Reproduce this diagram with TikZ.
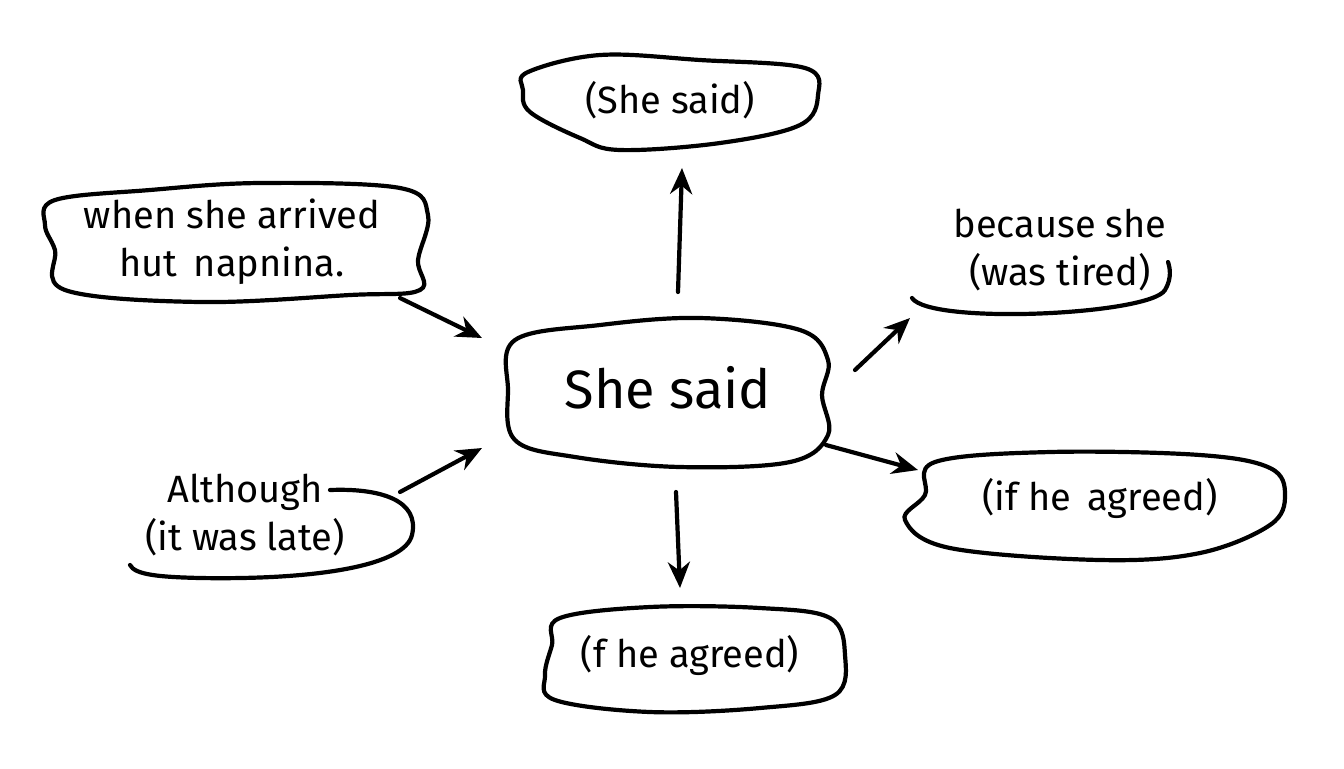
\documentclass[tikz,border=0pt]{standalone}
\usepackage{fontspec}
\setmainfont{Fira Sans}
\usetikzlibrary{arrows.meta}
\begin{document}
\begin{tikzpicture}[x=0.5pt,y=-0.5pt,
  blob/.style={draw,line width=2.1pt},
  txt/.style={font=\fontsize{19}{24}\selectfont,align=center},
  arr/.style={line width=2.1pt,-{Stealth[length=13pt,width=11pt]}},
  line cap=round,line join=round]
\useasboundingbox[fill=white] (0,0) rectangle (1344,768);
% center
\draw[blob] plot[smooth cycle,tension=0.6] coordinates {(515,340) (600,325) (700,318) (800,330) (828,360) (822,395) (828,435) (790,462) (680,467) (575,457) (515,440) (508,390)};
\node[font=\fontsize{27}{30}\selectfont] (c) at (668,388) {She said};
% top
\draw[blob] plot[smooth cycle,tension=0.6] coordinates {(528,72) (600,55) (700,60) (805,68) (818,95) (800,125) (720,143) (620,150) (580,138) (530,112) (523,90)};
\node[txt] (t) at (670,100) {(She said)};
% left top
\draw[blob] plot[smooth cycle,tension=0.6] coordinates {(55,200) (150,190) (260,183) (400,188) (428,215) (418,260) (420,290) (350,295) (200,302) (65,290) (55,250) (45,225)};
\node[txt] (lt) at (232,242) {when she arrived\\hut\, napnina.};
% right top (open)
\node[txt] (rt) at (1060,250) {because she\\(was tired)};
\draw[blob] (912,298) .. controls (930,325) and (1150,315) .. (1165,290) .. controls (1172,278) and (1170,268) .. (1168,262);
% left bottom (open)
\node[txt] (lb) at (245,515) {Although\\(it was late)};
\draw[blob] (330,490) .. controls (380,488) and (420,500) .. (412,535) .. controls (405,565) and (320,580) .. (200,578) .. controls (160,577) and (135,575) .. (130,565);
% right
\draw[blob] plot[smooth cycle,tension=0.6] coordinates {(935,462) (1050,452) (1200,455) (1270,468) (1285,495) (1270,525) (1200,553) (1100,560) (950,548) (905,520) (925,495)};
\node[txt] (r) at (1100,498) {(if he\, agreed)};
% bottom
\draw[blob] plot[smooth cycle,tension=0.6] coordinates {(560,618) (650,607) (760,608) (830,618) (845,655) (835,695) (760,708) (650,712) (555,700) (545,675) (552,645)};
\node[txt] (b) at (690,655) {(f he agreed)};
% arrows
\coordinate (a1) at (678,292); \coordinate (a1e) at (682,168);
\coordinate (a2) at (400,298); \coordinate (a2e) at (482,338);
\coordinate (a3) at (400,492); \coordinate (a3e) at (482,448);
\coordinate (a4) at (855,370); \coordinate (a4e) at (910,318);
\coordinate (a5) at (826,445); \coordinate (a5e) at (918,470);
\coordinate (a6) at (676,492); \coordinate (a6e) at (680,588);
\foreach \s/\e in {a1/a1e,a2/a2e,a3/a3e,a4/a4e,a5/a5e,a6/a6e}
  \draw[arr] (\s) -- (\e);
\end{tikzpicture}
\end{document}
